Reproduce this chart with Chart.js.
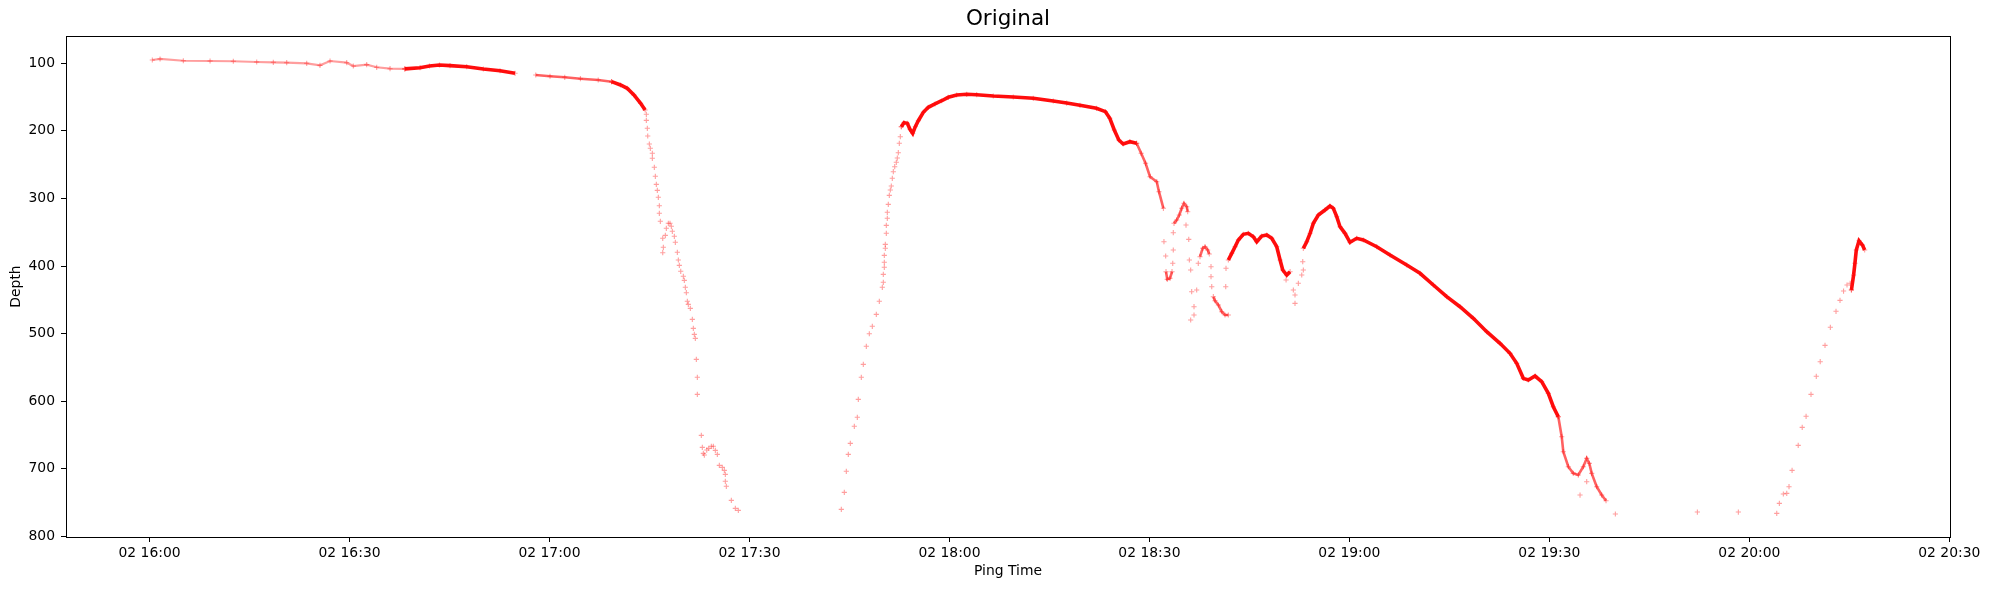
<!DOCTYPE html>
<html>
<head>
<meta charset="utf-8">
<title>Original</title>
<script src="https://cdn.jsdelivr.net/npm/chart.js@4/dist/chart.umd.min.js"></script>
<style>
  html, body { margin: 0; padding: 0; background: #fff; }
  canvas { display: block; }
</style>
</head>
<body>
<canvas id="depthChart" width="1989" height="590"></canvas>
<script>
// x = minutes after 02 16:00, y = depth
const tickMinutes = [0, 30, 60, 90, 120, 150, 180, 210, 240, 270];
const tickLabels = ['02 16:00', '02 16:30', '02 17:00', '02 17:30', '02 18:00',
  '02 18:30', '02 19:00', '02 19:30', '02 20:00', '02 20:30'];
const depthTicks = [100, 200, 300, 400, 500, 600, 700, 800];

const surfaceRun = [[0.42,95.1],[1.58,93.6],[5.07,96.2],[9.08,96.6],[12.57,97.0],[16.08,98.1],
  [18.57,98.5],[20.58,99.1],[23.58,100.0],[25.57,103.0],[27.08,96.6],[29.58,99.1],[30.57,104.0],
  [32.58,102.0],[34.08,105.9],[36.08,108.0],[38.3,108.3]];
const shelfRun = [[38.3,108.3],[40.58,106.5],[42.0,104.0],[43.5,102.5],[45.08,103.5],[47.58,105.0],
  [50.08,108.4],[52.58,111.0],[54.83,114.8]];
const edgeRun = [[57.94,117.3],[60.08,119.2],[62.29,120.7],[64.64,122.8],[67.31,124.7],[69.32,127.2]];
const cliffRun = [[69.32,127.2],[70.66,132.1],[71.66,137.0],[72.67,146.9],[73.67,159.2],[74.35,169.1]];
const dropPings = [[74.53,175.5],[74.53,184.4],[74.68,196.2],[74.74,207.6],[74.98,219.4],[75.13,225.8],
  [75.43,233.2],[75.43,240.6],[75.73,253.9],[75.88,267.2],[76.03,279.1],[76.18,288.0],[76.33,298.3],
  [76.48,310.8],[76.48,322.0],[76.63,333.8],[76.99,359.0],[77.08,372.3],[76.99,380.3],[77.38,354.6],
  [77.53,344.2],[77.83,336.8],[78.08,336.8],[78.28,341.2],[78.43,348.6],[78.73,356.0],[78.88,364.9],
  [79.18,379.7],[79.33,391.1],[79.48,399.0],[79.69,407.8],[80.08,415.2],[80.23,421.2],[80.38,431.5],
  [80.53,439.5],[80.68,452.2],[80.83,456.7],[81.13,462.6],[81.43,478.9],[81.58,492.2],[81.73,501.1],
  [81.88,507.0],[82.03,538.1],[82.18,564.7],[82.18,589.9],[82.78,650.6],[82.93,668.3],[83.08,677.2],
  [83.23,679.7],[83.59,672.3],[83.89,669.8],[84.28,666.8],[84.58,666.8],[84.88,672.8],[85.18,678.7],
  [85.48,695.0],[85.93,697.9],[86.23,702.4],[86.38,708.3],[86.38,718.6],[86.53,726.0],[87.28,746.8],
  [87.88,758.6],[88.33,761.6]];
const climbPings = [[103.78,760.1],[104.23,734.9],[104.53,703.8],[104.83,678.7],[105.13,662.4],
  [105.73,637.2],[106.18,623.9],[106.33,597.3],[106.78,564.7],[107.08,545.5],[107.53,518.8],
  [107.98,500.2],[108.43,489.2],[109.03,471.5],[109.48,452.2],[109.93,431.5],[110.08,424.1],
  [110.08,412.3],[110.23,401.9],[110.23,394.5],[110.23,384.2],[110.38,373.8],[110.38,367.9],
  [110.53,351.6],[110.53,339.8],[110.68,329.4],[110.68,320.5],[110.83,308.7],[110.98,295.4],
  [111.13,287.5],[111.28,281.6],[111.43,270.2],[111.58,260.4],[111.79,253.0],[112.03,246.5],
  [112.18,240.2],[112.33,232.3],[112.48,218.4],[112.63,208.6],[112.78,193.8]];
const bankRun = [[112.78,193.8],[113.18,187.9],[113.68,188.8],[114.08,197.7],[114.49,203.6],
  [114.88,193.8],[115.33,185.0],[116.08,172.5],[116.83,165.1],[117.83,160.2],[118.84,155.4],
  [119.83,150.3],[121.09,146.9],[122.59,145.9],[124.09,146.5],[126.58,148.4],[129.58,149.9],
  [132.58,151.8],[135.58,155.8],[137.59,158.8],[139.58,162.2],[142.05,166.6],[143.4,171.6],
  [144.06,181.4],[144.73,198.7],[145.41,213.5],[146.07,219.4],[147.07,216.0],[148.08,218.4]];
const slopeRun = [[148.08,218.4],[148.76,233.2],[149.42,248.0],[150.09,267.8],[151.1,275.2],
  [151.43,290.0],[152.1,314.6]];
const ridgePings = [[152.18,364.0],[152.44,385.2],[153.58,376.3],[153.58,350.7],[153.5,396.0],
  [155.49,339.4],[155.9,360.5],[155.99,391.1],[156.19,405.9],[156.34,438.0],[156.69,460.2],
  [156.69,472.5],[156.19,479.9],[157.09,435.5],[157.33,396.0],[159.24,401.0],[159.24,415.8],
  [159.35,430.6],[161.45,430.6],[161.49,403.4],[171.59,435.5],[171.84,442.9],[171.84,455.2],
  [172.34,425.6],[172.85,413.3],[173.09,405.9],[173.0,393.6],[170.5,420.7]];
const knotRun = [[152.49,408.4],[152.68,419.7],[153.09,418.2],[153.39,408.4]];
const peakRun = [[153.69,336.8],[154.09,331.9],[154.48,324.5],[154.84,314.6],[155.19,307.2],
  [155.6,312.2],[155.74,319.6]];
const humpRun = [[157.59,386.2],[157.99,373.8],[158.34,371.4],[158.74,376.3],[158.98,382.2]];
const gullyRun = [[159.59,445.4],[159.84,451.4],[160.34,457.7],[160.85,467.6],[161.34,472.5],
  [161.84,472.5]];
const twinRun = [[161.84,391.1],[162.35,381.2],[162.85,371.4],[163.34,361.5],[164.09,353.1],
  [164.84,351.6],[165.59,356.6],[166.1,364.0],[166.85,355.6],[167.6,354.1],[168.35,359.0],
  [169.1,371.4],[169.6,391.1],[170.0,405.9],[170.6,413.3],[171.1,408.4]];
const slideRun = [[173.09,373.8],[173.6,364.0],[174.1,351.6],[174.59,336.8],[175.34,324.5],
  [176.34,317.1],[177.09,311.2],[177.59,314.6],[178.1,327.0],[178.59,341.8],[179.34,351.6],
  [180.09,364.9],[181.1,359.0],[182.09,361.5],[184.1,371.4],[186.09,383.7],[188.6,398.5],
  [190.59,410.8],[192.59,428.1],[194.6,445.4],[196.59,460.2],[198.59,477.4],[200.6,497.2],
  [202.59,514.4],[204.09,529.2],[205.1,544.0],[206.09,566.2],[206.84,568.7],[207.85,562.8],
  [208.85,571.2],[209.84,588.4],[210.59,608.2],[211.34,623.0]];
const tailRun = [[211.34,623.0],[211.85,652.6],[212.09,674.8],[212.84,697.0],[213.59,706.8],
  [214.34,709.3],[215.09,697.0],[215.6,684.6],[215.99,692.0],[216.35,706.8],[217.1,726.6],
  [217.85,738.9],[218.5,747.3]];
const tailPings = [[214.6,738.9],[215.6,719.2]];
const lastPings = [[219.9,767.0],[232.2,764.1],[238.35,764.1],[244.11,766.0],[244.5,751.2],
  [245.1,737.4],[245.61,736.4],[245.95,726.6],[246.41,702.4],[247.33,665.4],[247.93,638.7],
  [248.51,622.4],[249.25,589.9],[250.04,563.2],[250.63,541.6],[251.35,517.4],[252.15,490.7],
  [253.0,467.0],[253.6,450.8],[254.13,437.0],[254.65,428.1],[255.12,425.6],[255.31,435.5]];
const endRun = [[255.31,435.5],[255.64,413.3],[255.84,396.0],[256.04,376.3],[256.45,362.6],
  [256.97,369.0],[257.3,376.3]];

const looks = {
  faint: { showLine: true, borderColor: 'rgba(255,0,0,0.38)', borderWidth: 2.2 },
  medium: { showLine: true, borderColor: 'rgba(255,0,0,0.62)', borderWidth: 2.6 },
  dense: { showLine: true, borderColor: 'rgba(255,0,0,0.95)', borderWidth: 3.6 },
  pings: { showLine: false, borderColor: 'rgba(255,0,0,0.35)', borderWidth: 1 }
};

function series(points, look) {
  return Object.assign({
    data: points,
    pointStyle: 'cross',
    pointRadius: 2.6,
    pointBorderWidth: 1.1,
    pointBorderColor: 'rgba(255,0,0,0.38)',
    pointBackgroundColor: 'rgba(255,0,0,0.38)',
    tension: 0
  }, looks[look]);
}

const frame = {
  id: 'frame',
  afterDraw(chart) {
    const { ctx, chartArea: a } = chart;
    ctx.save();
    ctx.strokeStyle = '#000';
    ctx.lineWidth = 1;
    ctx.strokeRect(Math.round(a.left) + 0.5, Math.round(a.top) + 0.5,
      Math.round(a.right - a.left), Math.round(a.bottom - a.top));
    ctx.restore();
  }
};

Chart.defaults.font.family = 'DejaVu Sans';
Chart.defaults.color = '#000';

new Chart(document.getElementById('depthChart'), {
  type: 'scatter',
  data: {
    datasets: [
      series(surfaceRun, 'faint'),
      series(shelfRun, 'dense'),
      series(edgeRun, 'medium'),
      series(cliffRun, 'dense'),
      series(dropPings, 'pings'),
      series(climbPings, 'pings'),
      series(bankRun, 'dense'),
      series(slopeRun, 'medium'),
      series(ridgePings, 'pings'),
      series(knotRun, 'medium'),
      series(peakRun, 'medium'),
      series(humpRun, 'medium'),
      series(gullyRun, 'medium'),
      series(twinRun, 'dense'),
      series(slideRun, 'dense'),
      series(tailRun, 'medium'),
      series(tailPings, 'pings'),
      series(lastPings, 'pings'),
      series(endRun, 'dense')
    ]
  },
  options: {
    responsive: false,
    animation: false,
    layout: { padding: { left: 0, right: 39, top: 0, bottom: 0 } },
    plugins: {
      legend: { display: false },
      tooltip: { enabled: false },
      title: {
        display: true,
        fullSize: false,
        text: 'Original',
        font: { size: 21.5, weight: 'normal' },
        padding: { top: 7, bottom: 3.2 }
      }
    },
    scales: {
      x: {
        type: 'linear',
        min: -12.53,
        max: 270.1,
        afterBuildTicks: (scale) => { scale.ticks = tickMinutes.map(v => ({ value: v })); },
        afterFit: (scale) => { scale.height = 53; },
        ticks: {
          autoSkip: false,
          maxRotation: 0,
          padding: 3,
          font: { size: 13.9 },
          callback: (v, i) => tickLabels[i]
        },
        grid: { drawOnChartArea: false, drawTicks: true, tickLength: 5, color: '#000', lineWidth: 1 },
        border: { display: false },
        title: { display: true, text: 'Ping Time', font: { size: 13.9 }, padding: { top: 0, bottom: 10 } }
      },
      y: {
        type: 'linear',
        reverse: true,
        min: 59.6,
        max: 801,
        afterBuildTicks: (scale) => { scale.ticks = depthTicks.map(v => ({ value: v })); },
        afterFit: (scale) => { scale.width = 66; },
        ticks: { padding: 6, font: { size: 13.9 } },
        grid: { drawOnChartArea: false, drawTicks: true, tickLength: 5, color: '#000', lineWidth: 1 },
        border: { display: false },
        title: { display: true, text: 'Depth', font: { size: 13.9 }, padding: { top: 8, bottom: 0 } }
      }
    }
  },
  plugins: [frame]
});
</script>
</body>
</html>
